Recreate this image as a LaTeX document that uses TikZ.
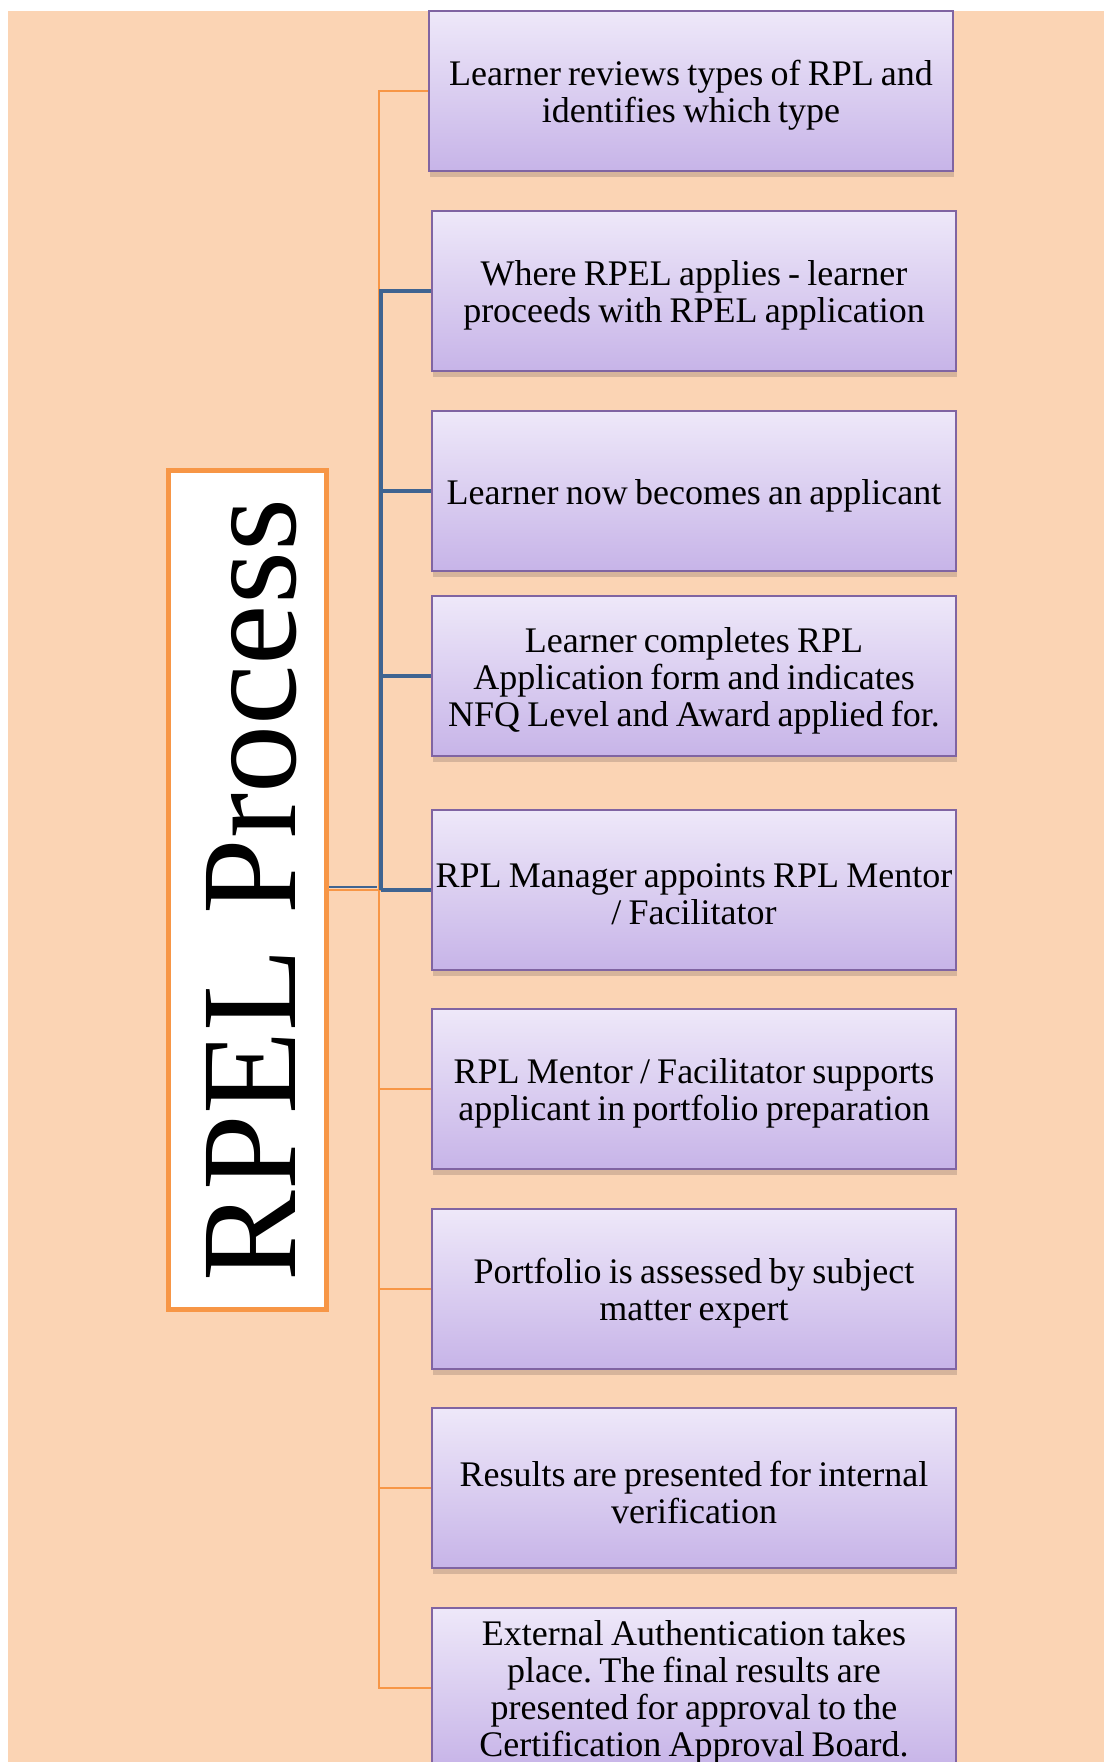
\documentclass[tikz,border=0pt]{standalone}
\usepackage{fontspec}
\setmainfont{Liberation Serif}
\newfontfamily\boxfont[WordSpace=0.8]{Liberation Serif}
\usetikzlibrary{shadows}
\definecolor{peach}{RGB}{251,212,180}
\definecolor{orng}{RGB}{247,150,70}
\definecolor{bluel}{RGB}{63,100,145}
\definecolor{purp}{RGB}{128,100,162}
\definecolor{lavtop}{RGB}{238,232,249}
\definecolor{lavbot}{RGB}{199,180,232}
\definecolor{shad}{RGB}{214,180,155}
\begin{document}
\begin{tikzpicture}[x=0.5pt,y=-0.5pt,
  box/.style={draw=purp,line width=1pt,top color=lavtop,bottom color=lavbot,
    minimum width=262pt,minimum height=80pt,inner sep=0pt,
    general shadow={fill=shad,shadow xshift=0.6pt,shadow yshift=-3pt}},
  boxtext/.style={align=center,inner sep=0pt,yshift=-2.25pt,
    font=\boxfont\frenchspacing\fontsize{18}{18.5}\selectfont},
  rpelbox/.style={draw=orng,line width=2.5pt,fill=white,minimum width=79pt,minimum height=419.5pt,inner sep=0pt},
  oline/.style={draw=orng,line width=1pt},
  bline/.style={draw=bluel,line width=2pt},
  bthin/.style={draw=bluel,line width=1pt}]
\useasboundingbox (0,0) rectangle (1104,1762);
\fill[peach] (8,11) rectangle (1104,1762);

\node[rpelbox] (rpel) at (247.5,890) {};
\node[rotate=90,anchor=base,inner sep=0pt,font=\fontsize{68}{68}\selectfont] (rpeltext) at (295,890) {RPEL Process};

\coordinate (jo) at (379,890);
\coordinate (jb) at (381,890);
\coordinate (jt) at (377,887);

\node[box] (b1) at (691,91) {};
\node[box] (b2) at (694,291) {};
\node[box] (b3) at (694,491) {};
\node[box] (b4) at (694,676) {};
\node[box] (b5) at (694,890) {};
\node[box] (b6) at (694,1089) {};
\node[box] (b7) at (694,1289) {};
\node[box] (b8) at (694,1488) {};
\node[box] (b9) at (694,1688) {};

\node[boxtext] (t1) at (b1.center) {Learner reviews types of RPL and\\identifies which type};
\node[boxtext] (t2) at (b2.center) {Where RPEL applies - learner\\proceeds with RPEL application};
\node[boxtext] (t3) at (b3.center) {Learner now becomes an applicant};
\node[boxtext] (t4) at (b4.center) {Learner completes RPL\\Application form and indicates\\NFQ Level and Award applied for.};
\node[boxtext] (t5) at (b5.center) {RPL Manager appoints RPL Mentor\\/ Facilitator};
\node[boxtext] (t6) at (b6.center) {RPL Mentor / Facilitator supports\\applicant in portfolio preparation};
\node[boxtext] (t7) at (b7.center) {Portfolio is assessed by subject\\matter expert};
\node[boxtext] (t8) at (b8.center) {Results are presented for internal\\verification};
\node[boxtext] (t9) at (b9.center) {External Authentication takes\\place. The final results are\\presented for approval to the\\Certification Approval Board.};

\foreach \i in {1,...,9}{
  \draw[oline] (rpel.east) -- (jo) |- (b\i.west);
}
\draw[bthin] (rpel.east |- jt) -- (jt);
\foreach \i in {2,3,4}{
  \draw[bline] (jb) |- (b\i.west);
}
\draw[bline] (jb) -- (b5.west);
\end{tikzpicture}
\end{document}
